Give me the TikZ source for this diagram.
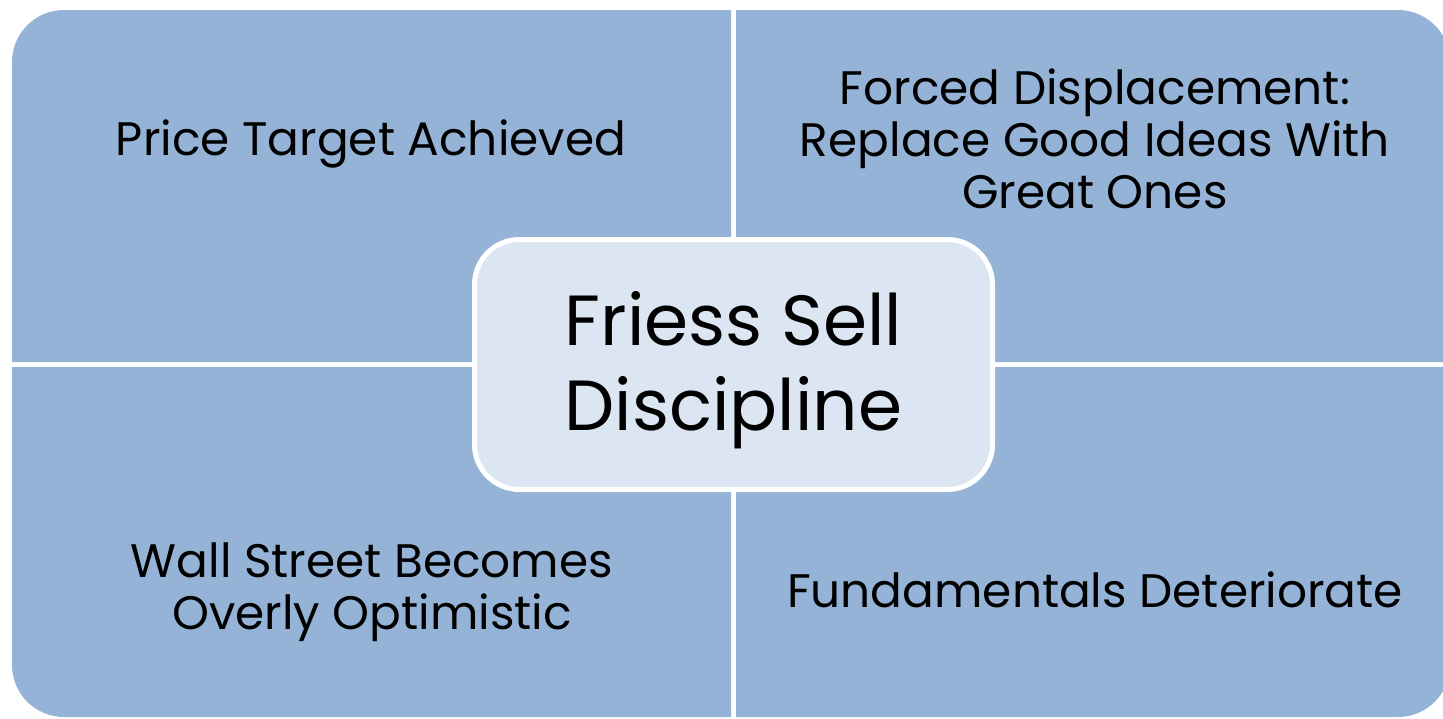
\documentclass[tikz,border=0pt]{standalone}
\usepackage{fontspec}
\setmainfont{Poppins}
\definecolor{quadblue}{HTML}{95B3D7}
\definecolor{hubblue}{HTML}{DCE6F2}

\begin{document}
\begin{tikzpicture}[x=1pt,y=-1pt,
  quad/.style={fill=quadblue},
  lbl/.style={align=center,font=\fontsize{47}{52}\selectfont},
  hub/.style={rectangle,draw=white,line width=5pt,fill=hubblue,rounded corners=45pt,
    minimum width=518pt,minimum height=250pt},
  hubtext/.style={align=center,font=\fontsize{71}{85}\selectfont}]
\useasboundingbox (0,0) rectangle (1443,718);
\clip (0,0) rectangle (1443,718);
% four quarters, only the outer corner is round
\fill[quad] (731,362) -- (12,362) -- (12,200) [rounded corners=52pt] -- (12,10) -- (400,10) [sharp corners] -- (731,10) -- cycle;
\fill[quad] (736,10) -- (1100,10) [rounded corners=52pt] -- (1450,10) -- (1450,200) [sharp corners] -- (1450,362) -- (736,362) -- cycle;
\fill[quad] (731,367) -- (12,367) -- (12,550) [rounded corners=52pt] -- (12,717) -- (400,717) [sharp corners] -- (731,717) -- cycle;
\fill[quad] (736,367) -- (1450,367) -- (1450,550) [rounded corners=52pt] -- (1450,717) -- (1100,717) [sharp corners] -- (736,717) -- cycle;
\node[lbl] (target) at (371,144) {Price Target Achieved};
\node[lbl] (displace) at (1095,139) {Forced Displacement:\\Replace Good Ideas With\\Great Ones};
\node[lbl] (wallst) at (372,592) {Wall Street Becomes\\Overly Optimistic};
\node[lbl] (fundament) at (1095,590) {Fundamentals Deteriorate};
\node[hub] (sell) at (733.5,364.5) {};
\node[hubtext] (selltext) at ([yshift=-6pt]sell.center) {Friess Sell\\Discipline};
\end{tikzpicture}
\end{document}
